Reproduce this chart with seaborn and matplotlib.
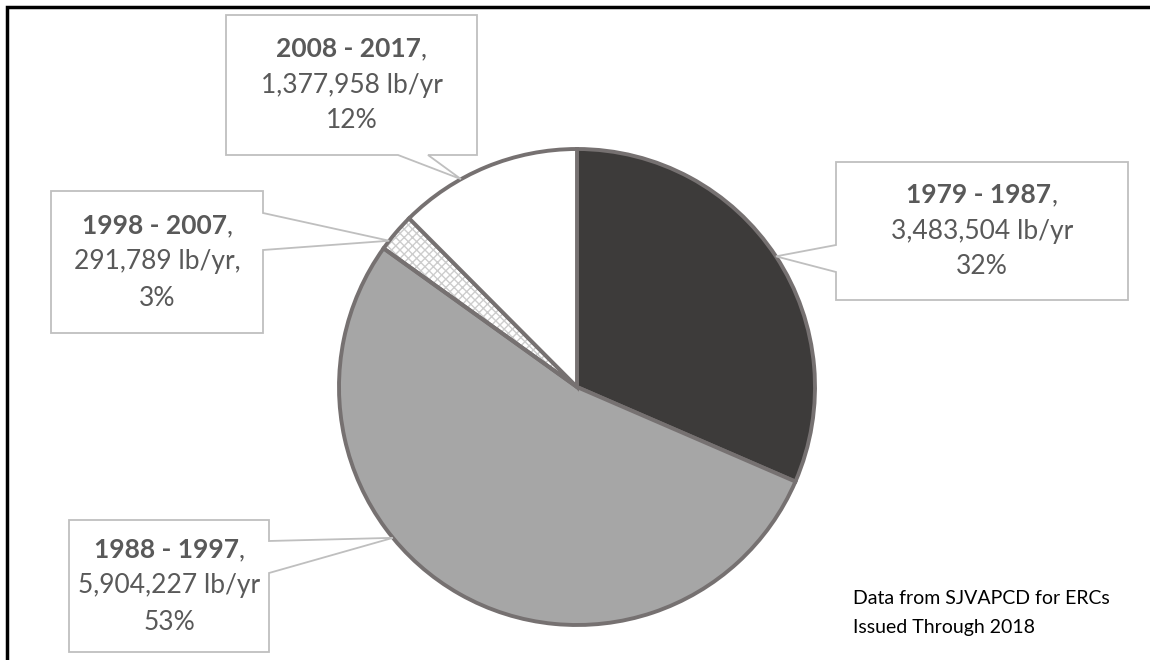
import numpy as np
import matplotlib
matplotlib.use("Agg")
import matplotlib.pyplot as plt
import seaborn as sns
from matplotlib.patches import Wedge, Polygon
from matplotlib.lines import Line2D

# Dados (ERCs emitidos, lb/ano)
periodos = ["1979 - 1987", "1988 - 1997", "1998 - 2007", "2008 - 2017"]
valores = [3483504, 5904227, 291789, 1377958]
percentuais = ["32%", "53%", "3%", "12%"]
sufixos = [" lb/yr", " lb/yr", " lb/yr,", " lb/yr"]
cores = ["#3d3b3a", "#a6a6a6", "none", "#ffffff"]

W, H = 1150, 660
CENTRO = (577, H - 387)
RAIO = 238

sns.set_theme(style="white")
plt.rcParams["font.family"] = ["Lato", "DejaVu Sans"]

# caixas (px, origem no topo): L, T, R, B, lado do ponteiro, base1, base2, fração no setor
caixas = [
    (836, 162, 1128, 300, "left", 245, 272, 0.5),
    (69, 520, 269, 652, "right", 541, 573, 0.61),
    (51, 191, 263, 333, "right", 213, 250, 0.24),
    (226, 15, 477, 155, "bottom", 398, 428, 0.35),
]


def py(y):
    return H - y


def callout(ax, L, T, R, B, lado, b1, b2, tip):
    if lado == "right":
        pts = [(L, T), (R, T), (R, b1), tip, (R, b2), (R, B), (L, B)]
    elif lado == "left":
        pts = [(L, T), (R, T), (R, B), (L, B), (L, b2), tip, (L, b1)]
    else:
        pts = [(L, T), (R, T), (R, B), (b2, B), tip, (b1, B), (L, B)]
    pts = [(x, py(y)) for x, y in pts]
    ax.add_patch(Polygon(pts, closed=True, facecolor="white",
                         edgecolor="#bfbfbf", linewidth=1.3, zorder=3))


fig = plt.figure(figsize=(W / 100, H / 100), dpi=100)
ax = fig.add_axes([0, 0, 1, 1])

wedges, _ = ax.pie(valores, colors=cores, startangle=90, counterclock=False,
                   center=CENTRO, radius=RAIO,
                   wedgeprops=dict(edgecolor="#767171", linewidth=2.8))

# setor hachurado (1998 - 2007)
w = wedges[2]
ax.add_patch(Wedge(CENTRO, RAIO, w.theta1, w.theta2, facecolor="white",
                   edgecolor="#cdcdcd", hatch="xxxx", linewidth=0, zorder=0.5))

cor_txt = "#595959"
for i, (L, T, R, B, lado, b1, b2, frac) in enumerate(caixas):
    w = wedges[i]
    ang = np.deg2rad(w.theta2 - frac * (w.theta2 - w.theta1))
    tip = (CENTRO[0] + RAIO * np.cos(ang), H - (CENTRO[1] + RAIO * np.sin(ang)))
    callout(ax, L, T, R, B, lado, b1, b2, tip)
    cx = (L + R) / 2
    cy = (T + B) / 2
    t = ax.text(cx - 3, py(cy - 36), periodos[i], ha="center", va="center",
                fontsize=19, fontweight="bold", color=cor_txt, zorder=4)
    ax.annotate(",", xy=(1, 0), xycoords=t, ha="left", va="bottom",
                fontsize=19, color=cor_txt, zorder=4)
    ax.text(cx, py(cy), f"{valores[i]:,}" + sufixos[i], ha="center", va="center",
            fontsize=19, color=cor_txt, zorder=4)
    ax.text(cx, py(cy + 36), percentuais[i], ha="center", va="center",
            fontsize=19, color=cor_txt, zorder=4)

ax.text(853, py(598), "Data from SJVAPCD for ERCs", ha="left", va="center",
        fontsize=14, color="black")
ax.text(853, py(628), "Issued Through 2018", ha="left", va="center",
        fontsize=14, color="black")

# moldura (esquerda e topo)
ax.add_line(Line2D([7, 7, W], [0, py(7), py(7)], color="black", linewidth=2.5,
                   solid_joinstyle="miter"))

ax.set_xlim(0, W)
ax.set_ylim(0, H)
ax.set_axis_off()

fig.savefig("out.png", dpi=100)
